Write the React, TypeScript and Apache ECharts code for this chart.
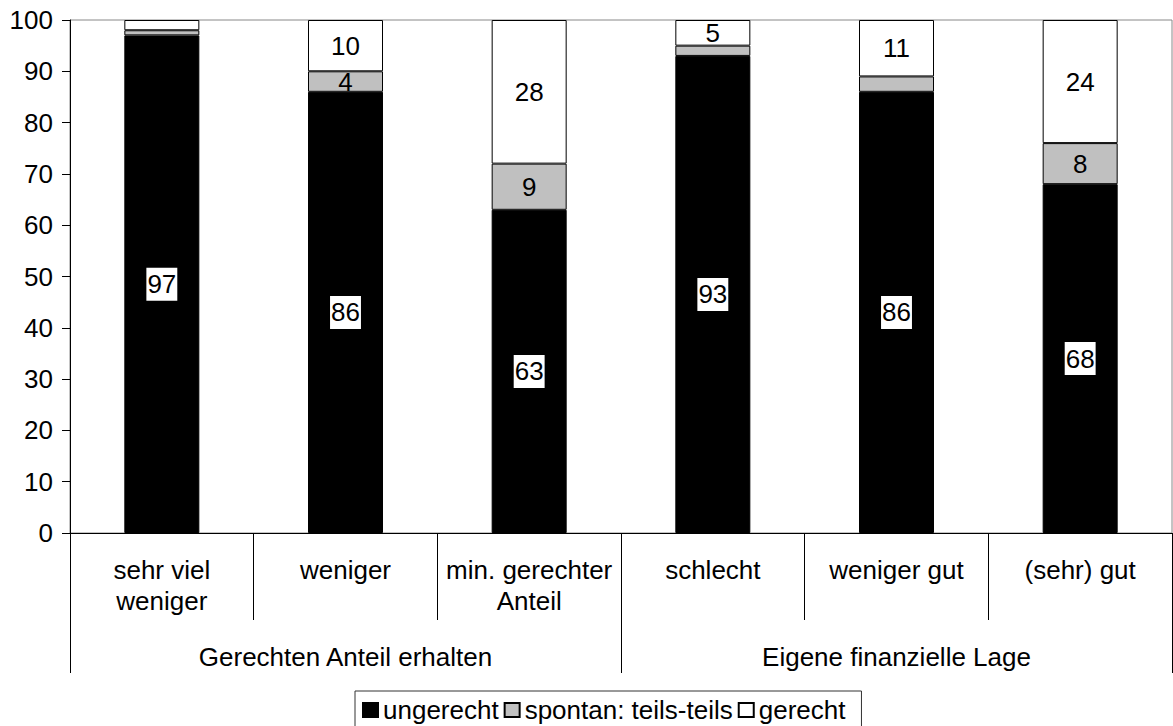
import React, { useEffect, useRef } from "react";
import * as echarts from "echarts";

const categories = [
  "sehr viel\nweniger",
  "weniger",
  "min. gerechter\nAnteil",
  "schlecht",
  "weniger gut",
  "(sehr) gut",
];
const groups = ["Gerechten Anteil erhalten", "Eigene finanzielle Lage"];
const ungerecht = [97, 86, 63, 93, 86, 68];
const teilsTeils = [1, 4, 9, 2, 3, 8];
const gerecht = [2, 10, 28, 5, 11, 24];
const yTicks = [0, 10, 20, 30, 40, 50, 60, 70, 80, 90, 100];

const FONT = "'Liberation Sans', Arial, sans-serif";

export default function App() {
  const ref = useRef<HTMLDivElement>(null);
  useEffect(() => {
    document.body.style.margin = "0";
    const chart = echarts.init(ref.current!, undefined, { renderer: "svg" });
    const hideSmall = (p: any) => (p.value >= 4 ? String(p.value) : "");
    const baseLabel = {
      show: true,
      position: "inside",
      color: "#000",
      fontSize: 26,
      fontFamily: FONT,
    };
    chart.setOption({
      animation: false,
      backgroundColor: "#fff",
      textStyle: { fontFamily: FONT },
      grid: {
        left: 70,
        right: 1,
        top: 20,
        bottom: 193,
        show: true,
        borderColor: "#888",
        borderWidth: 1,
        backgroundColor: "transparent",
      },
      legend: {
        left: 355,
        top: 691,
        padding: [6, 16, 6, 7],
        itemGap: 5,
        itemWidth: 15,
        itemHeight: 14,
        icon: "rect",
        borderColor: "#333",
        borderWidth: 1,
        borderRadius: 0,
        textStyle: { fontSize: 26, color: "#000", fontFamily: FONT },
        data: ["ungerecht", "spontan: teils-teils", "gerecht"],
      },
      xAxis: [
        {
          type: "category",
          data: categories,
          position: "bottom",
          axisLine: { show: true, lineStyle: { color: "#000", width: 1 } },
          axisTick: {
            show: true,
            interval: 0,
            length: 87,
            alignWithLabel: false,
            lineStyle: { color: "#000" },
          },
          axisLabel: {
            interval: 0,
            margin: 21,
            fontSize: 26,
            lineHeight: 31,
            color: "#000",
            fontFamily: FONT,
          },
        },
        {
          type: "category",
          data: groups,
          position: "bottom",
          axisLine: { show: false },
          axisTick: {
            show: true,
            interval: 0,
            length: 140,
            alignWithLabel: false,
            lineStyle: { color: "#000" },
          },
          axisLabel: {
            interval: 0,
            margin: 108,
            fontSize: 26,
            lineHeight: 31,
            color: "#000",
            fontFamily: FONT,
          },
        },
      ],
      yAxis: {
        type: "value",
        min: yTicks[0],
        max: yTicks[yTicks.length - 1],
        interval: 10,
        axisLine: { show: true, lineStyle: { color: "#000" } },
        axisTick: { show: true, length: 8, lineStyle: { color: "#000" } },
        splitLine: { show: false },
        axisLabel: {
          margin: 17,
          fontSize: 26,
          color: "#000",
          fontFamily: FONT,
        },
      },
      series: [
        {
          name: "ungerecht",
          type: "bar",
          stack: "total",
          barWidth: 75,
          data: ungerecht,
          itemStyle: { color: "#000", borderColor: "#000", borderWidth: 1 },
          label: {
            ...baseLabel,
            backgroundColor: "#fff",
            padding: [2, 1, 1, 1],
            lineHeight: 30,
          },
        },
        {
          name: "spontan: teils-teils",
          type: "bar",
          stack: "total",
          barWidth: 75,
          data: teilsTeils,
          itemStyle: { color: "#c0c0c0", borderColor: "#000", borderWidth: 1 },
          label: { ...baseLabel, formatter: hideSmall },
        },
        {
          name: "gerecht",
          type: "bar",
          stack: "total",
          barWidth: 75,
          data: gerecht,
          itemStyle: { color: "#fff", borderColor: "#000", borderWidth: 1 },
          label: { ...baseLabel, formatter: hideSmall },
        },
      ],
    });
    return () => chart.dispose();
  }, []);
  return <div ref={ref} style={{ width: 1173, height: 726 }} />;
}
